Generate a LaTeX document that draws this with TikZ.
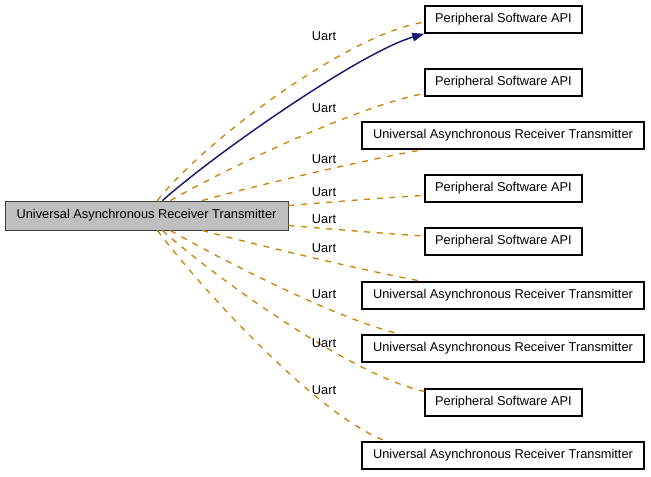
\documentclass[tikz,border=0pt]{standalone}
\usepackage{fontspec}
\setmainfont{Liberation Sans}
\usetikzlibrary{arrows.meta}
\definecolor{uartorange}{HTML}{C98508}
\definecolor{midblue}{HTML}{191970}
\definecolor{mainfill}{HTML}{BFBFBF}
\tikzset{
  mainbox/.style={draw=black!75,fill=mainfill,line width=0.6pt,
                  minimum width=212.25pt,minimum height=21.75pt,
                  inner sep=0pt,font=\fontsize{9.6}{11}\selectfont},
  apibox/.style={draw=black,fill=white,line width=1.1pt,
                 minimum width=117.75pt,minimum height=20.4pt,
                 inner sep=0pt,font=\fontsize{9.6}{11}\selectfont},
  uartbox/.style={draw=black,fill=white,line width=1.1pt,
                  minimum width=211.5pt,minimum height=20.4pt,
                  inner sep=0pt,font=\fontsize{9.6}{11}\selectfont},
  uartedge/.style={draw=uartorange,line width=1pt,looseness=0.6,
                   dash pattern=on 4.5pt off 5pt},
  usesarr/.style={-{Triangle[length=9pt,width=6.5pt]},line width=1.1pt,
                  draw=midblue,looseness=0.55},
  uartlabel/.style={inner sep=0pt,font=\fontsize{9.6}{11}\selectfont}
}
\begin{document}
\begin{tikzpicture}[x=0.75pt,y=0.75pt]
    \path[use as bounding box] (0,0) rectangle (651,476);
    \node[mainbox] (uart) at (146.5,260.5)
      {Universal Asynchronous Receiver Transmitter};

    \node[apibox]  (api1) at (503.5,456.5) {Peripheral Software API};
    \node[apibox]  (api2) at (503.5,393.5) {Peripheral Software API};
    \node[uartbox] (uart3) at (503,340.5)
      {Universal Asynchronous Receiver Transmitter};
    \node[apibox]  (api4) at (503.5,287.5) {Peripheral Software API};
    \node[apibox]  (api5) at (503.5,234.5) {Peripheral Software API};
    \node[uartbox] (uart6) at (503,180.5)
      {Universal Asynchronous Receiver Transmitter};
    \node[uartbox] (uart7) at (503,127.5)
      {Universal Asynchronous Receiver Transmitter};
    \node[apibox]  (api8) at (503.5,73.5) {Peripheral Software API};
    \node[uartbox] (uart9) at (503,20.5)
      {Universal Asynchronous Receiver Transmitter};

    % member links
    \draw[uartedge] (uart.54) to[out=52,in=188] (api1.182);
    \draw[uartedge] (uart.32) to[out=30,in=190] (api2.188);
    \draw[uartedge] (uart.15) to[out=16,in=190] (uart3.190);
    \draw[uartedge] (uart.4) to[out=5,in=183] (api4.185);
    \draw[uartedge] (uart.-4) to[out=-5,in=177] (api5.176);
    \draw[uartedge] (uart.-15) to[out=-15,in=170] (uart6.170);
    \draw[uartedge] (uart.-32) to[out=-30,in=168] (uart7.172);
    \draw[uartedge] (uart.-43) to[out=-42,in=168] (api8.172);
    \draw[uartedge] (uart.-54) to[out=-53,in=160] (uart9.173);

    \draw[usesarr] (uart.43) to[out=42,in=196] (api1.south west);

    \node[uartlabel] (lab1) at (324,440) {Uart};
    \node[uartlabel] (lab2) at (324,368) {Uart};
    \node[uartlabel] (lab3) at (324,317) {Uart};
    \node[uartlabel] (lab4) at (324,284) {Uart};
    \node[uartlabel] (lab5) at (324,257) {Uart};
    \node[uartlabel] (lab6) at (324,228) {Uart};
    \node[uartlabel] (lab7) at (324,182) {Uart};
    \node[uartlabel] (lab8) at (324,133) {Uart};
    \node[uartlabel] (lab9) at (324,86) {Uart};
  \end{tikzpicture}
\end{document}
